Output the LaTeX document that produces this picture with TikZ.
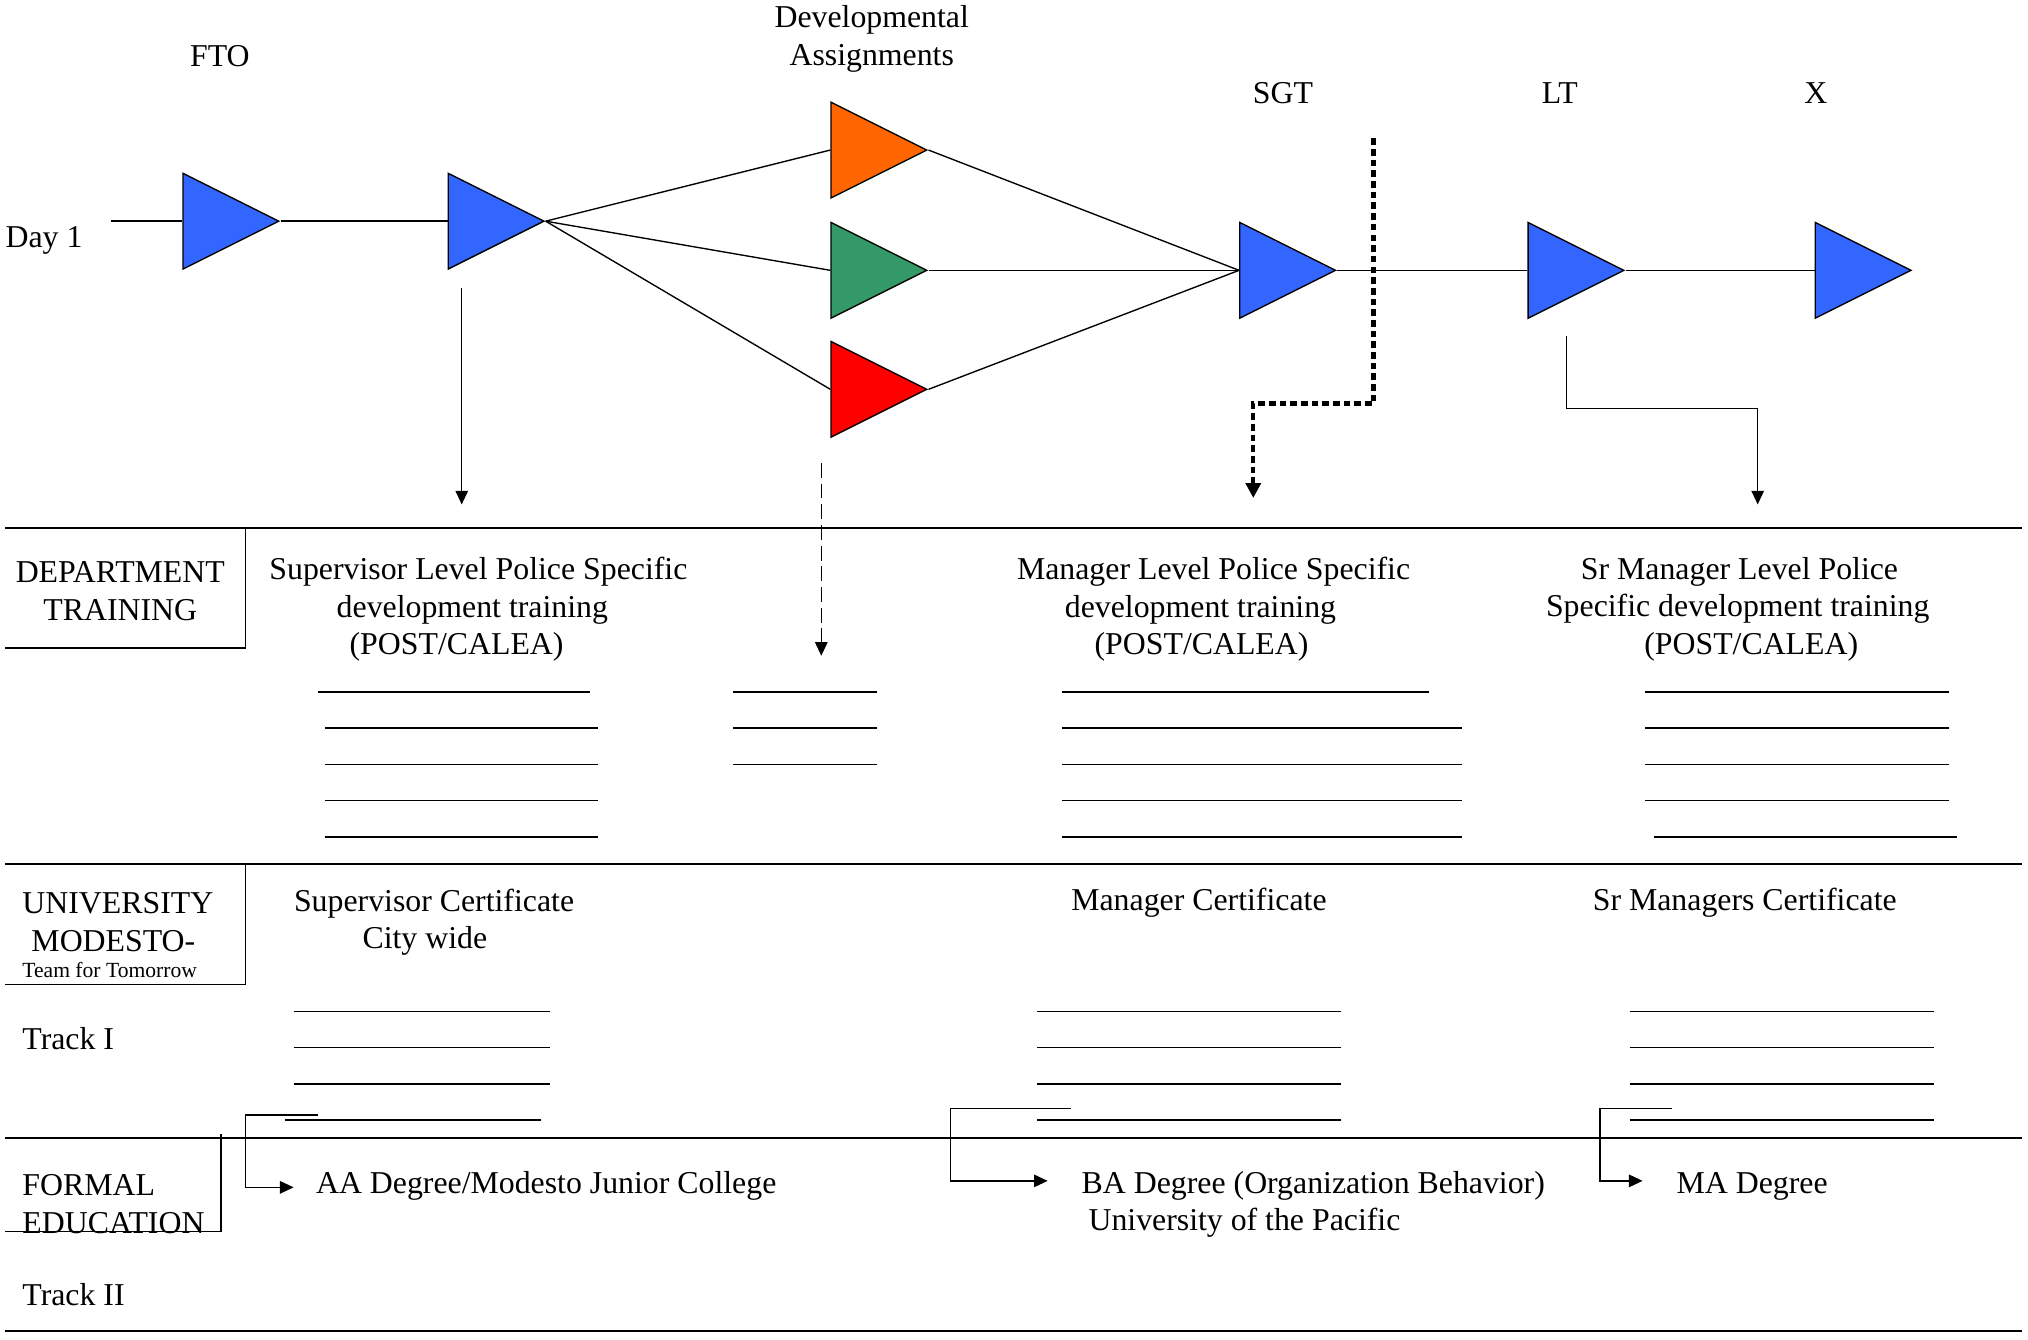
\documentclass[tikz,border=0pt]{standalone}
\usepackage{fontspec}
\setmainfont{Liberation Serif}
\usetikzlibrary{arrows.meta,shapes.geometric}
\definecolor{RankBlue}{HTML}{3366FF}
\definecolor{AssignOrange}{HTML}{FF6600}
\definecolor{AssignGreen}{HTML}{339966}
\definecolor{AssignRed}{HTML}{FF0000}
\tikzset{
  lbl/.style={inner sep=0pt, font=\fontsize{14pt}{16.5pt}\selectfont},
  rank/.style={draw=black, isosceles triangle, isosceles triangle stretches,
               minimum width=1.48cm, minimum height=1.48cm, inner sep=0pt,
               line width=0.6pt, anchor=west, fill=RankBlue},
  track/.style={line width=0.6pt, draw=black},
  drop/.style={-{Triangle[length=6pt, width=5.5pt]}, line width=0.6pt},
  maybe/.style={drop, dash pattern=on 6.5pt off 2.6pt},
  promo/.style={-{Triangle[length=6.5pt, width=6.5pt]}, line width=1.9pt,
                dash pattern=on 2.9pt off 1.8pt},
  divider/.style={line width=0.9pt},
  blank/.style={line width=0.7pt}
}

\begin{document}
\begin{tikzpicture}[x=0.02cm, y=-0.02cm]
  \useasboundingbox (0,0) rectangle (1568,1036);

  \node[lbl] (ftolbl) at (170,43) {FTO};
  \node[lbl, align=center] (devlbl) at (674,30) {Developmental\\Assignments};
  \node[lbl] (sgtlbl) at (992,72) {SGT};
  \node[lbl] (ltlbl) at (1206,72) {LT};
  \node[lbl] (xlbl) at (1404,72) {X};
  \node[lbl, anchor=west] (day1) at (4,186) {Day 1};
  \coordinate (start) at (86,171);

  \node[rank] (fto) at (141,171) {};
  \node[rank] (patrol) at (346,171) {};
  \node[rank, fill=AssignOrange] (assigna) at (642,116) {};
  \node[rank, fill=AssignGreen] (assignb) at (642,209) {};
  \node[rank, fill=AssignRed] (assignc) at (642,301) {};
  \node[rank] (sgt) at (958,209) {};
  \node[rank] (lt) at (1181,209) {};
  \node[rank] (xrank) at (1403,209) {};

  \draw[track] (start) -- (fto.west);
  \draw[track] (fto.apex) -- (patrol.west);
  \foreach \a in {assigna,assignb,assignc}{
    \draw[track] (patrol.apex) -- (\a.west);
    \draw[track] (\a.apex) -- (sgt.west);
  }
  \draw[track] (sgt.apex) -- (lt.west);
  \draw[track] (lt.apex) -- (xrank.west);

  \coordinate (supfrom) at (357,223);
  \coordinate (supto) at (357,390);
  \coordinate (devfrom) at (635,358);
  \coordinate (devto) at (635,507);
  \coordinate (sgtfrom) at (1062,107);
  \coordinate (sgtto) at (969,385);
  \coordinate (ltfrom) at (1211,260);
  \coordinate (ltto) at (1359,390);
  \draw[drop] (supfrom) -- (supto);
  \draw[maybe] (devfrom) -- (devto);
  \draw[promo] (sgtfrom) -- (1062,312) -| (sgtto);
  \draw[drop] (ltfrom) -- (1211,316) -| (ltto);

  \draw[divider] (4,408) -- (1563,408);
  \draw[divider] (4,668) -- (1563,668);
  \draw[divider] (4,880) -- (1563,880);
  \draw[divider] (4,1029) -- (1563,1029);
  \draw[track] (190,408) |- (4,501);
  \draw[track] (190,668) |- (4,761);
  \draw[track] (171,877) |- (4,952);

  \node[lbl, align=center] (depttrain) at (93,457) {DEPARTMENT\\TRAINING};
  \node[lbl, anchor=west, align=left] (suptrain) at (208,471)
    {Supervisor Level Police Specific\\\hspace*{1.04cm}development training\\
     \hspace*{1.24cm}(POST/CALEA)};
  \node[lbl, anchor=west, align=left] (mgrtrain) at (786,471)
    {Manager Level Police Specific\\\hspace*{0.74cm}development training\\
     \hspace*{1.2cm}(POST/CALEA)};
  \node[lbl, anchor=west, align=left] (srtrain) at (1195,471)
    {\hspace*{0.54cm}Sr Manager Level Police\\Specific development training\\
     \hspace*{1.52cm}(POST/CALEA)};

  \draw[blank] (246,535) -- (456,535);
  \draw[blank] (821,535) -- (1105,535);
  \foreach \y in {563,591,619,647}{
    \draw[blank] (251,\y) -- (462,\y);
    \draw[blank] (821,\y) -- (1130,\y);
  }
  \foreach \y in {535,563,591}
    \draw[blank] (567,\y) -- (678,\y);
  \foreach \y in {535,563,591,619}
    \draw[blank] (1272,\y) -- (1507,\y);
  \draw[blank] (1279,647) -- (1513,647);

  \node[lbl, anchor=west, align=left] (univ) at (17,723)
    {UNIVERSITY\\\hspace*{0.14cm}MODESTO-\\[-5pt]{\fontsize{9.5pt}{11pt}\selectfont Team for Tomorrow}};
  \node[lbl, anchor=west, align=left] (supcert) at (227,713)
    {Supervisor Certificate\\\hspace*{1.06cm}City wide};
  \node[lbl] (mgrcert) at (927,698) {Manager Certificate};
  \node[lbl] (srcert) at (1349,698) {Sr Managers Certificate};
  \node[lbl, anchor=west] (track1) at (17,803) {Track I};

  \foreach \y in {782,810,838}
    \draw[blank] (227,\y) -- (425,\y);
  \draw[blank] (220,866) -- (418,866);
  \foreach \y in {782,810,838,866}{
    \draw[blank] (802,\y) -- (1037,\y);
    \draw[blank] (1260,\y) -- (1495,\y);
  }

  \node[lbl, anchor=west, align=left] (formal) at (17,931) {FORMAL\\EDUCATION};
  \node[lbl, anchor=west] (aa) at (244,917) {AA Degree/Modesto Junior College};
  \node[lbl, anchor=west, align=left] (ba) at (836,931)
    {BA Degree (Organization Behavior)\\\hspace{3pt}University of the Pacific};
  \node[lbl, anchor=west] (ma) at (1296,917) {MA Degree};
  \node[lbl, anchor=west] (track2) at (17,1001) {Track II};

  \coordinate (aafrom) at (246,862);
  \coordinate (aato) at (227,918);
  \coordinate (bafrom) at (828,857);
  \coordinate (bato) at (810,913);
  \coordinate (mafrom) at (1293,857);
  \coordinate (mato) at (1270,913);
  \draw[drop] (aafrom) -- (190,862) |- (aato);
  \draw[drop] (bafrom) -- (735,857) |- (bato);
  \draw[drop] (mafrom) -- (1237,857) |- (mato);
\end{tikzpicture}
\end{document}
